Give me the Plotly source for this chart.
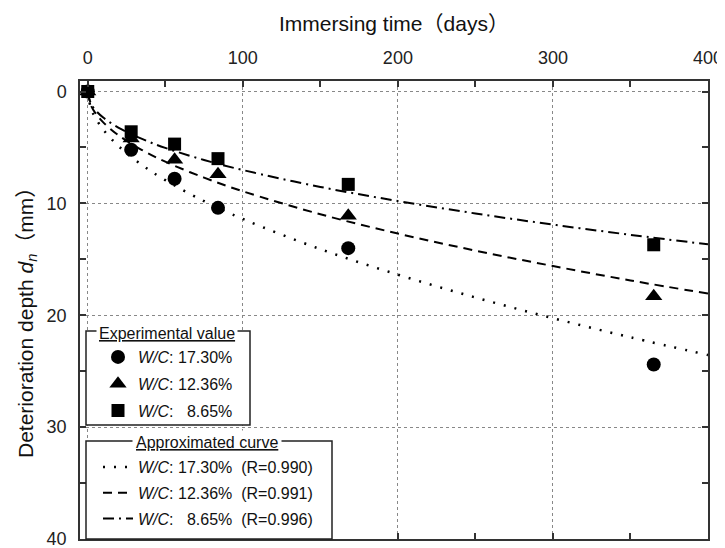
import plotly.graph_objects as go

# ---------------- data ----------------
days_exp = [0, 28, 56, 84, 168, 365]
depth_wc1730 = [0.0, 5.2, 7.8, 10.4, 14.0, 24.4]
depth_wc1236 = [0.0, 4.2, 6.1, 7.4, 11.1, 18.3]
depth_wc865 = [0.0, 3.6, 4.7, 6.0, 8.3, 13.7]

days_fit = [0, 2, 5, 10, 20, 35, 50, 75, 100, 150, 200, 250, 300, 350, 400]
fit_wc1730 = [0.0, 1.47, 2.37, 3.41, 4.90, 6.57, 7.92, 9.80, 11.39, 14.09, 16.37, 18.41, 20.26, 21.97, 23.55]
fit_wc1236 = [0.0, 1.22, 1.94, 2.76, 3.93, 5.23, 6.27, 7.70, 8.92, 10.97, 12.70, 14.22, 15.60, 16.89, 18.06]
fit_wc865 = [0.0, 1.07, 1.67, 2.33, 3.24, 4.24, 5.04, 6.12, 7.02, 8.53, 9.79, 10.90, 11.90, 12.81, 13.66]

exp_labels = ["<i>W/C</i>: 17.30%", "<i>W/C</i>: 12.36%", "<i>W/C</i>: \u20078.65%"]
fit_labels = ["<i>W/C</i>: 17.30%  (R=0.990)", "<i>W/C</i>: 12.36%  (R=0.991)",
              "<i>W/C</i>: \u20078.65%  (R=0.996)"]

x_ticks = [0, 100, 200, 300, 400]
y_ticks = [0, 10, 20, 30, 40]

# ---------------- layout geometry ----------------
OFF = 8  # page body margin offset
W, H = 725 - OFF, 548 - OFF
ML, MR, MT, MB = 80 - OFF, 17, 81 - OFF, 9
PW, PH = W - ML - MR, H - MT - MB
FONT = "Arial, Liberation Sans, Noto Sans CJK JP, sans-serif"


def px(xp):
    """page pixel x -> paper fraction"""
    return (xp - OFF - ML) / PW


def py(yp):
    """page pixel y -> paper fraction"""
    return 1 - (yp - OFF - MT) / PH


fig = go.Figure()

# fitted curves
fit_styles = [("2px,9px", 2.5, fit_wc1730), ("9px,6px", 2, fit_wc1236), ("11px,5px,2px,5px", 2, fit_wc865)]
for i, (dash, lw, ys) in enumerate(fit_styles):
    fig.add_trace(go.Scatter(
        x=days_fit, y=ys, mode="lines", line=dict(color="black", width=lw, dash=dash, shape="spline"),
        name=fit_labels[i], legend="legend2", legendgroup=f"f{i}"))

# experimental points
symbols = ["circle", "triangle-up", "square"]
sizes = [14, 15, 13]
for i, ys in enumerate([depth_wc1730, depth_wc1236, depth_wc865]):
    fig.add_trace(go.Scatter(
        x=days_exp, y=ys, mode="markers",
        marker=dict(symbol=symbols[i], size=sizes[i], color="black", line=dict(width=0)),
        name=exp_labels[i], legend="legend", legendgroup=f"e{i}"))

axis_common = dict(
    showline=True, linecolor="#333", linewidth=1.5, mirror="allticks",
    ticks="inside", ticklen=6, tickcolor="#333", tickwidth=1.5,
    showgrid=True, gridcolor="#888", gridwidth=1, griddash="3px,3px",
    zeroline=False, automargin=False, ticklabeloverflow="allow",
    tickfont=dict(family=FONT, size=18, color="#222"),
)

fig.update_layout(
    width=W, height=H,
    margin=dict(l=ML, r=MR, t=MT, b=MB, autoexpand=False),
    paper_bgcolor="white", plot_bgcolor="white",
    font=dict(family=FONT, color="#111"),
    xaxis=dict(range=[-5, 400], side="top", tickvals=x_ticks, ticklabelstandoff=8,
               minor=dict(dtick=50, tick0=0, ticks="inside", ticklen=6, tickcolor="#333", showgrid=False),
               **axis_common),
    yaxis=dict(range=[40, -0.94], tickvals=y_ticks, ticklabelstandoff=8,
               minor=dict(dtick=5, tick0=0, ticks="inside", ticklen=6, tickcolor="#333", showgrid=False),
               **axis_common),
    legend=dict(x=px(98), y=py(340), xanchor="left", yanchor="top", bgcolor="rgba(0,0,0,0)",
                borderwidth=0, font=dict(family=FONT, size=16, color="#111"),
                tracegroupgap=3, traceorder="grouped", itemclick=False),
    legend2=dict(x=px(98), y=py(450), xanchor="left", yanchor="top", bgcolor="rgba(0,0,0,0)",
                 borderwidth=0, font=dict(family=FONT, size=16, color="#111"),
                 tracegroupgap=2, traceorder="grouped", itemclick=False),
    showlegend=True,
)

# legend boxes
fig.add_shape(type="rect", xref="paper", yref="paper", x0=px(86), x1=px(250), y0=py(425), y1=py(331),
              line=dict(color="#222", width=1.5), fillcolor="white", layer="above")
fig.add_shape(type="rect", xref="paper", yref="paper", x0=px(86), x1=px(332), y0=py(539), y1=py(441),
              line=dict(color="#222", width=1.5), fillcolor="white", layer="above")

# legend titles sitting on the box borders
fig.add_annotation(text="<u>Experimental value</u>", xref="paper", yref="paper", x=px(167), y=py(333),
                   showarrow=False, xanchor="center", yanchor="middle", bgcolor="white", borderpad=2,
                   font=dict(family=FONT, size=16, color="#111"))
fig.add_annotation(text="<u>Approximated curve</u>", xref="paper", yref="paper", x=px(207), y=py(442),
                   showarrow=False, xanchor="center", yanchor="middle", bgcolor="white", borderpad=3,
                   font=dict(family=FONT, size=16, color="#111"))

# axis titles
fig.add_annotation(text="Immersing time（days）", xref="paper", yref="paper", x=px(394), y=py(23),
                   showarrow=False, xanchor="center", yanchor="middle",
                   font=dict(family=FONT, size=21, color="#111"))
fig.add_annotation(text="Deterioration depth <i>d</i><sub><i>n</i></sub>（mm）", xref="paper", yref="paper",
                   x=px(27), y=py(318), textangle=-90, showarrow=False, xanchor="center", yanchor="middle",
                   font=dict(family=FONT, size=21, color="#111"))

fig.write_html("out.html")
